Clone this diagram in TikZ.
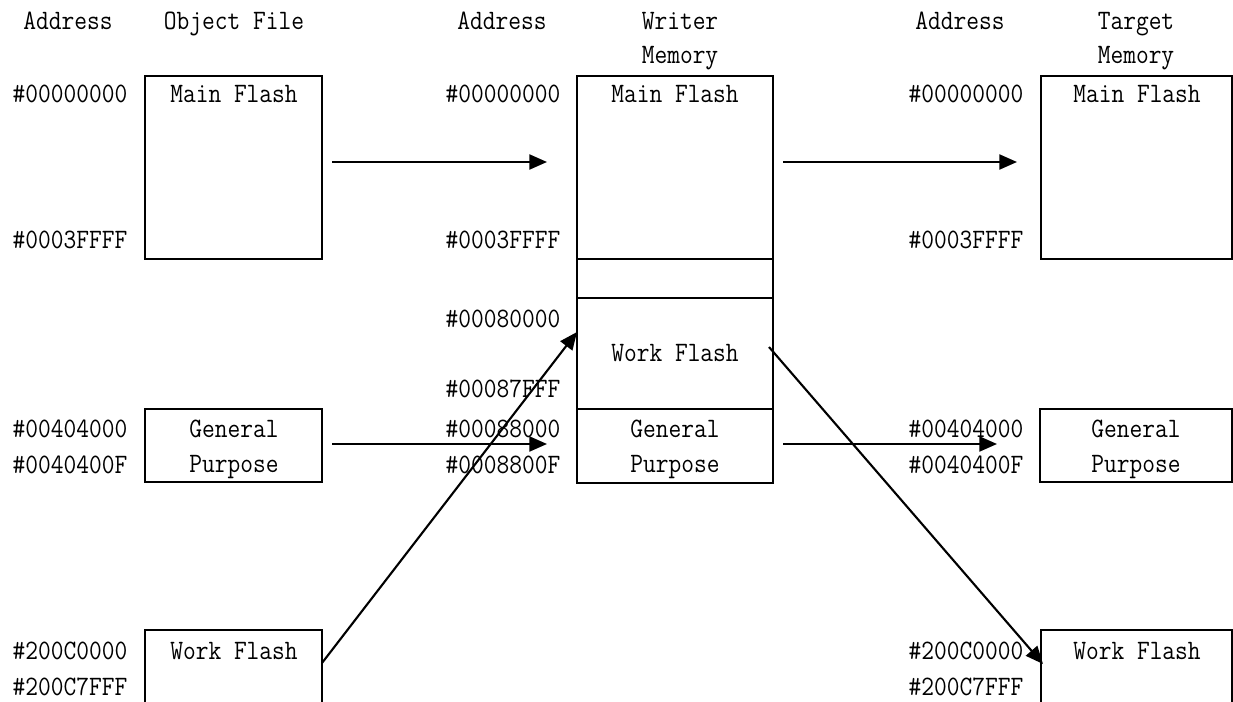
\documentclass[tikz,border=0pt]{standalone}
\usepackage{graphicx}
\usetikzlibrary{arrows.meta,fit}
\newcommand\hs[1]{\scalebox{0.88}[1]{#1}}
\begin{document}
\begin{tikzpicture}[x=0.02cm,y=-0.02cm,
  box/.style={draw, line width=1.2pt, inner sep=0pt, rectangle},
  lbl/.style={font=\fontsize{16}{19}\selectfont\ttfamily, inner sep=0pt, anchor=base},
  arr/.style={-{Triangle[length=10pt,width=8.5pt]}, line width=1.2pt}]
\useasboundingbox (0,0) rectangle (1233,702);
\begin{scope}
\clip (0,0) rectangle (1233,702);
% object file boxes
\node[box, fit={(145,76) (322,259)}] (omain) {};
\node[box, fit={(145,409) (322,482)}] (ogp) {};
\node[box, fit={(145,630) (322,760)}] (owork) {};
% writer memory boxes
\node[box, fit={(577,76) (773,259)}] (wmain) {};
\node[box, fit={(577,259) (773,298)}] (wgap) {};
\node[box, fit={(577,298) (773,409)}] (wwork) {};
\node[box, fit={(577,409) (773,483)}] (wgp) {};
% target memory boxes
\node[box, fit={(1041,76) (1232,259)}] (tmain) {};
\node[box, fit={(1040,409) (1232,482)}] (tgp) {};
\node[box, fit={(1041,630) (1232,760)}] (twork) {};
\end{scope}
% headers
\node[lbl] (h1) at (68,30) {\hs{Address}};
\node[lbl] (h2) at (234,30) {\hs{Object File}};
\node[lbl] (h3) at (502,30) {\hs{Address}};
\node[lbl] (h4) at (680,30) {\hs{Writer}};
\node[lbl] (h5) at (680,64) {\hs{Memory}};
\node[lbl] (h6) at (960,30) {\hs{Address}};
\node[lbl] (h7) at (1136,30) {\hs{Target}};
\node[lbl] (h8) at (1136,64) {\hs{Memory}};
% box texts
\node[lbl] (t1) at (234,103) {\hs{Main Flash}};
\node[lbl] (t2) at (234,437) {\hs{General}};
\node[lbl] (t3) at (234,472) {\hs{Purpose}};
\node[lbl] (t4) at (234,659) {\hs{Work Flash}};
\node[lbl] (t5) at (675,103) {\hs{Main Flash}};
\node[lbl] (t6) at (675,361) {\hs{Work Flash}};
\node[lbl] (t7) at (675,437) {\hs{General}};
\node[lbl] (t8) at (675,472) {\hs{Purpose}};
\node[lbl] (t9) at (1137,103) {\hs{Main Flash}};
\node[lbl] (t10) at (1136,437) {\hs{General}};
\node[lbl] (t11) at (1136,472) {\hs{Purpose}};
\node[lbl] (t12) at (1137,659) {\hs{Work Flash}};
% addresses
\node[lbl] (a1) at (70,103) {\hs{\#00000000}};
\node[lbl] (a2) at (70,249) {\hs{\#0003FFFF}};
\node[lbl] (a3) at (70,437) {\hs{\#00404000}};
\node[lbl] (a4) at (70,473) {\hs{\#0040400F}};
\node[lbl] (a5) at (70,659) {\hs{\#200C0000}};
\node[lbl] (a6) at (70,695) {\hs{\#200C7FFF}};
\node[lbl] (b1) at (503,103) {\hs{\#00000000}};
\node[lbl] (b2) at (503,249) {\hs{\#0003FFFF}};
\node[lbl] (b3) at (503,327) {\hs{\#00080000}};
\node[lbl] (b4) at (503,397) {\hs{\#00087FFF}};
\node[lbl] (b5) at (503,437) {\hs{\#00088000}};
\node[lbl] (b6) at (503,473) {\hs{\#0008800F}};
\node[lbl] (c1) at (966,103) {\hs{\#00000000}};
\node[lbl] (c2) at (966,249) {\hs{\#0003FFFF}};
\node[lbl] (c3) at (966,437) {\hs{\#00404000}};
\node[lbl] (c4) at (966,473) {\hs{\#0040400F}};
\node[lbl] (c5) at (966,659) {\hs{\#200C0000}};
\node[lbl] (c6) at (966,695) {\hs{\#200C7FFF}};
% arrow end points
\coordinate (m1s) at (332,162); \coordinate (m1e) at (547,162);
\coordinate (m2s) at (783,162); \coordinate (m2e) at (1017,162);
\coordinate (g1s) at (332,444); \coordinate (g1e) at (547,444);
\coordinate (g2s) at (783,444); \coordinate (g2e) at (997,444);
\coordinate (w1s) at (322,663); \coordinate (w1e) at (577,332);
\coordinate (w2s) at (769,347); \coordinate (w2e) at (1043,664);
\draw[arr] (m1s) -- (m1e);
\draw[arr] (m2s) -- (m2e);
\draw[arr] (g1s) -- (g1e);
\draw[arr] (g2s) -- (g2e);
\draw[arr] (w1s) -- (w1e);
\draw[arr] (w2s) -- (w2e);
\end{tikzpicture}
\end{document}
